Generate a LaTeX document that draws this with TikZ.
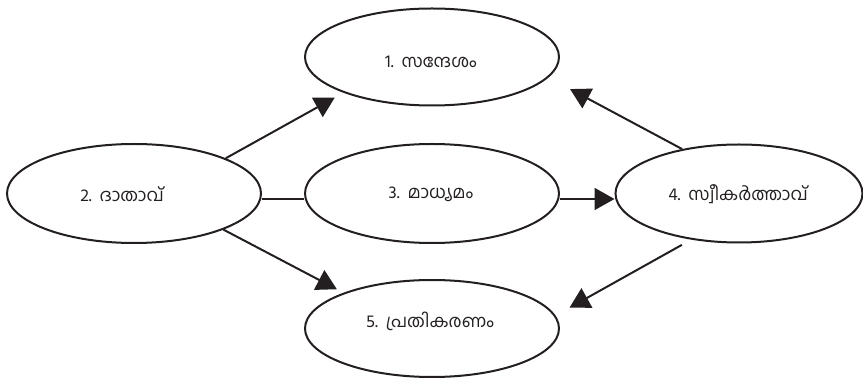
\documentclass[tikz,border=0pt]{standalone}
\usepackage{fontspec}
\setmainfont[Script=Malayalam]{Hind Kochi}
\usetikzlibrary{arrows.meta,shapes.geometric}
\definecolor{ink}{RGB}{35,31,32}
\begin{document}
\begin{tikzpicture}[x=1pt,y=-1pt,
  ell/.style={ellipse,draw=ink,line width=2pt,inner sep=0pt,minimum width=254pt,minimum height=97pt},
  lbl/.style={text=ink,font=\fontsize{17.5}{20}\selectfont,inner sep=0pt,anchor=center},
  conn/.style={draw=ink,line width=2pt},
  arr/.style={conn,-{Triangle[length=20pt,width=22pt]}}]
\useasboundingbox (0,0) rectangle (863,379);
\node[ell] (e1) at (432,57) {};
\node[ell,minimum height=99pt] (e2) at (134,193.5) {};
\node[ell,minimum height=99pt] (e3) at (432,193.5) {};
\node[ell,minimum height=98pt,minimum width=247pt] (e4) at (739,193.5) {};
\node[ell] (e5) at (432,328.5) {};
\node[lbl] (t1) at (431,62) {1.\hspace{0.45em}സന്ദേശം};
\node[lbl] (t2) at (122,194) {2.\hspace{0.45em}ദാതാവ്};
\node[lbl] (t3) at (431,194) {3.\hspace{0.45em}മാധ്യമം};
\node[lbl] (t4) at (738,194) {4.\hspace{0.45em}സ്വീകർത്താവ്};
\node[lbl] (t5) at (430,321) {5.\hspace{0.45em}പ്രതികരണം};
\draw[arr,shorten >=10pt] (e2.21.7) -- (e1.202.3);
\draw[arr,shorten >=7.5pt] (e2.338.3) -- (e5.158.4);
\draw[conn] ([yshift=-5.5pt]e2.east) -- ([yshift=-5.5pt]e3.west);
\draw[arr] ([yshift=-5.5pt]e3.east) -- ([yshift=-5.5pt]e4.west);
\draw[arr,shorten >=24.5pt] (e4.142.2) -- (e1.350.6);
\draw[arr,shorten <=10.7pt,shorten >=16pt] (e4.224) -- (e5.6.4);
\end{tikzpicture}
\end{document}
